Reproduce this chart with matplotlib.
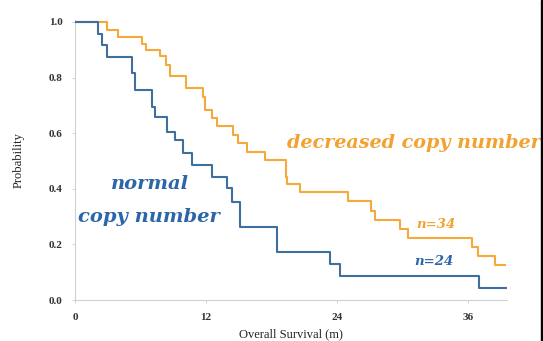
import matplotlib
matplotlib.use("Agg")
import matplotlib.pyplot as plt
from matplotlib.patches import Rectangle

# Kaplan-Meier step data
normal_times = [0, 2.1, 2.5, 2.9, 5.2, 5.5, 7.1, 7.3, 8.4, 9.2, 9.9, 10.7, 12.6, 13.9, 14.4, 15.1, 18.5, 23.4, 24.3, 37.0, 39.6]
normal_surv = [1.0, 0.958, 0.917, 0.875, 0.817, 0.755, 0.694, 0.658, 0.604, 0.576, 0.529, 0.486, 0.442, 0.403, 0.353, 0.263, 0.173, 0.129, 0.086, 0.043, 0.043]

decr_times = [0, 2.9, 3.9, 6.1, 6.5, 7.8, 8.3, 8.7, 10.2, 11.7, 11.9, 12.6, 13.0, 14.5, 14.9, 15.8, 17.4, 19.3, 19.4, 20.6, 25.0, 27.1, 27.5, 29.8, 30.5, 36.4, 36.9, 38.5, 39.4]
decr_surv = [1.0, 0.971, 0.946, 0.921, 0.899, 0.878, 0.845, 0.806, 0.763, 0.730, 0.683, 0.655, 0.626, 0.594, 0.565, 0.532, 0.504, 0.442, 0.417, 0.388, 0.356, 0.320, 0.288, 0.255, 0.223, 0.191, 0.158, 0.126, 0.126]

x_ticks = [0, 12, 24, 36]
y_ticks = [0.0, 0.2, 0.4, 0.6, 0.8, 1.0]
y_tick_labels = ["0.0", "0.2", "0.4", "0.6", "0.8", "1.0"]

BLUE = "#3f6f9f"
BLUE_TXT = "#2b66a8"
ORANGE = "#f4a93a"
ORANGE_TXT = "#f2a230"
SERIF = ["Liberation Serif", "DejaVu Serif"]
WIDE = ["DejaVu Serif"]

fig = plt.figure(figsize=(5.43, 3.41), dpi=100)
ax = fig.add_axes([75 / 543, 41 / 341, 432 / 543, 280 / 341])

ax.step(decr_times, decr_surv, where="post", color=ORANGE, lw=1.5, zorder=3)
ax.step(normal_times, normal_surv, where="post", color=BLUE, lw=1.5, zorder=4)

ax.set_xlim(0, 39.6)
ax.set_ylim(0, 1.007)
ax.set_xticks(x_ticks)
ax.set_xticklabels([str(t) for t in x_ticks], fontfamily=SERIF, fontsize=8, fontweight="bold", color="#333333")
ax.set_yticks(y_ticks)
ax.set_yticklabels(y_tick_labels, fontfamily=SERIF, fontsize=8, fontweight="bold", color="#333333")
ax.tick_params(axis="both", length=2, width=0.6, color="#cccccc", pad=7)

for side in ["top", "right"]:
    ax.spines[side].set_visible(False)
for side in ["left", "bottom"]:
    ax.spines[side].set_color("#d0d0d0")
    ax.spines[side].set_linewidth(0.8)

ax.set_xlabel("Overall Survival (m)", fontfamily=SERIF, fontsize=9, color="#222222", labelpad=5)
ax.set_ylabel("Probability", fontfamily=SERIF, fontsize=9, color="#222222", labelpad=17)

ax.text(19.4, 0.565, "decreased copy number", fontfamily=WIDE, style="italic", fontweight="bold",
        fontsize=13.8, color=ORANGE_TXT, ha="left", va="center", clip_on=False)
ax.text(6.9, 0.418, "normal", fontfamily=WIDE, style="italic", fontweight="bold",
        fontsize=14, color=BLUE_TXT, ha="center", va="center")
ax.text(6.8, 0.298, "copy number", fontfamily=WIDE, style="italic", fontweight="bold",
        fontsize=14, color=BLUE_TXT, ha="center", va="center")
ax.text(33.1, 0.27, "n=34", fontfamily=WIDE, style="italic", fontweight="bold",
        fontsize=9.5, color=ORANGE_TXT, ha="center", va="center")
ax.text(32.9, 0.137, "n=24", fontfamily=WIDE, style="italic", fontweight="bold",
        fontsize=9.5, color=BLUE_TXT, ha="center", va="center")

fig.patches.append(Rectangle((541 / 543, 0), 2 / 543, 1, transform=fig.transFigure,
                             color="black", zorder=10))

fig.savefig("out.png", dpi=100)
